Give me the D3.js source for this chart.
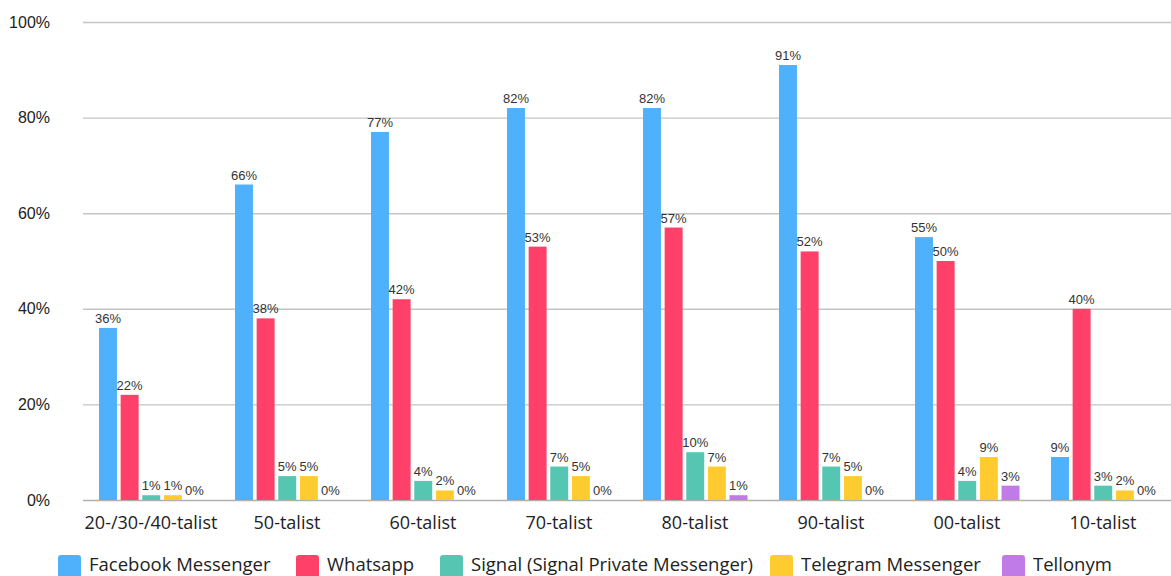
<!DOCTYPE html>
<html><head><meta charset="utf-8">
<script src="https://cdn.jsdelivr.net/npm/d3@7"></script>
<style>body{margin:0;background:#fff}</style>
</head><body>
<svg id="c" width="1171" height="576"></svg>
<script>
const categories = ["20-/30-/40-talist","50-talist","60-talist","70-talist","80-talist","90-talist","00-talist","10-talist"];
const seriesNames = ["Facebook Messenger","Whatsapp","Signal (Signal Private Messenger)","Telegram Messenger","Tellonym"];
const facebook = [36,66,77,82,82,91,55,9];
const whatsapp = [22,38,42,53,57,52,50,40];
const signal = [1,5,4,7,10,7,4,3];
const telegram = [1,5,2,5,7,5,9,2];
const tellonym = [0,0,0,0,1,0,3,0];
const yTicks = [0,20,40,60,80,100];
const colors = ["#4FB0FB","#FF4069","#56C6B3","#FFCB2F","#C07BE8"];

(function(){
const values = [facebook, whatsapp, signal, telegram, tellonym];
const svg = d3.select("#c");
const mLeft = 83, mRight = 1171, mTop = 22, mBottom = 500;

const x0 = d3.scaleBand().domain(categories).range([mLeft, mRight]).padding(0);
const x1 = d3.scaleBand().domain(seriesNames).range([16, 120.5]).paddingInner(0.17).paddingOuter(0);
const y = d3.scaleLinear().domain([0, 100]).range([mBottom, mTop]);

const yAxis = d3.axisLeft(y).tickValues(yTicks).tickSize(-(mRight-mLeft)).tickFormat(d => d + "%");
const ga = svg.append("g").attr("transform", `translate(${mLeft},0)`).call(yAxis);
ga.select(".domain").remove();
ga.selectAll(".tick line").attr("stroke", d => d === 0 ? "#b0b0b0" : "#c4c4c4").attr("stroke-width", 1.4);
ga.selectAll(".tick text").attr("x", -33).attr("font-family", "Liberation Sans, Arial, sans-serif").attr("font-size", 16).attr("fill", "#222");

const groups = svg.append("g").selectAll("g").data(categories).join("g")
  .attr("transform", d => `translate(${x0(d)},0)`);
groups.each(function(cat, ci) {
  const g = d3.select(this);
  seriesNames.forEach((s, si) => {
    const v = values[si][ci];
    g.append("rect").attr("x", x1(s)).attr("width", x1.bandwidth())
      .attr("y", y(v)).attr("height", mBottom - y(v)).attr("fill", colors[si]);
    g.append("text").attr("x", x1(s) + x1.bandwidth()/2).attr("y", y(v) - 5)
      .attr("text-anchor", "middle").attr("font-family", "Liberation Sans, Arial, sans-serif")
      .attr("font-size", 13).attr("fill", "#333").text(v + "%");
  });
});

const xAxis = d3.axisBottom(x0).tickSize(0).tickPadding(0);
const gx = svg.append("g").attr("transform", `translate(0,${mBottom})`).call(xAxis);
gx.select(".domain").remove();
gx.selectAll(".tick text").attr("y", 29).attr("dy", 0).attr("font-family", "Open Sans, sans-serif").attr("font-size", 18).attr("fill", "#222");

const legendX = [58, 296, 440, 770, 1002];
const lg = svg.append("g").selectAll("g").data(seriesNames).join("g")
  .attr("transform", (d, i) => `translate(${legendX[i]},555)`);
lg.append("rect").attr("width", 23).attr("height", 23).attr("rx", 3).attr("fill", (d, i) => colors[i]);
lg.append("text").attr("x", 31).attr("y", 16).attr("font-family", "Open Sans, sans-serif").attr("font-size", 18.5).attr("fill", "#222").text(d => d);
})();
</script>
</body></html>
